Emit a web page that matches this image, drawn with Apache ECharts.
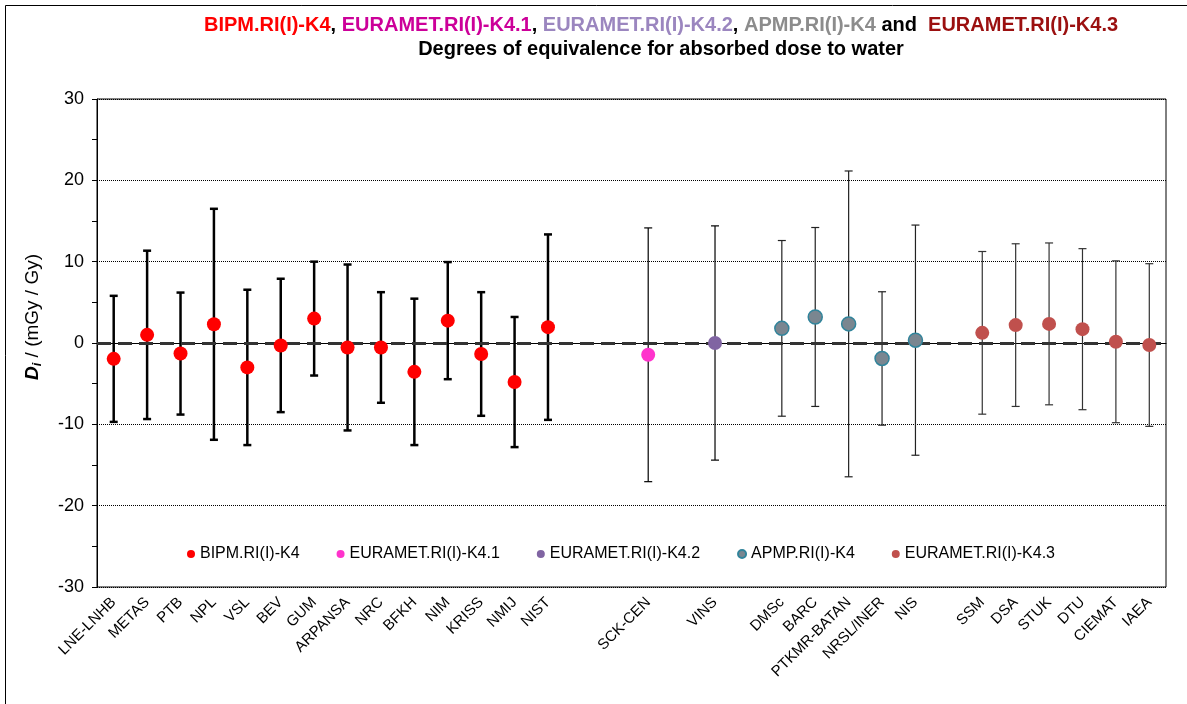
<!DOCTYPE html>
<html>
<head>
<meta charset="utf-8">
<script src="https://cdn.jsdelivr.net/npm/echarts@6/dist/echarts.min.js"></script>
<style>
  html, body { margin: 0; padding: 0; background: #fff; }
  #chart { width: 1187px; height: 704px; }
</style>
</head>
<body>
<div id="chart"></div>
<script>
// category slots, blanks leave the gaps between groups
const categories = [
  'LNE-LNHB', 'METAS', 'PTB', 'NPL', 'VSL', 'BEV', 'GUM', 'ARPANSA', 'NRC', 'BFKH',
  'NIM', 'KRISS', 'NMIJ', 'NIST', '', '', 'SCK-CEN', '', 'VINS', '',
  'DMSc', 'BARC', 'PTKMR-BATAN', 'NRSL/INER', 'NIS', '', 'SSM', 'DSA', 'STUK', 'DTU',
  'CIEMAT', 'IAEA'
]
const yTicks = [-30, -20, -10, 0, 10, 20, 30]

// BIPM.RI(I)-K4
const bipmLabs = ['LNE-LNHB', 'METAS', 'PTB', 'NPL', 'VSL', 'BEV', 'GUM', 'ARPANSA', 'NRC', 'BFKH', 'NIM', 'KRISS', 'NMIJ', 'NIST']
const bipmDi = [-1.95, 1.0, -1.3, 2.3, -3.0, -0.3, 3.0, -0.55, -0.55, -3.55, 2.75, -1.35, -4.8, 1.95]
const bipmU = [7.75, 10.35, 7.5, 14.2, 9.55, 8.2, 7.0, 10.2, 6.8, 9.0, 7.2, 7.6, 8.0, 11.4]

// EURAMET.RI(I)-K4.1
const k41Labs = ['SCK-CEN']
const k41Di = [-1.45]
const k41U = [15.6]

// EURAMET.RI(I)-K4.2
const k42Labs = ['VINS']
const k42Di = [0.0]
const k42U = [14.4]

// APMP.RI(I)-K4
const apmpLabs = ['DMSc', 'BARC', 'PTKMR-BATAN', 'NRSL/INER', 'NIS']
const apmpDi = [1.8, 3.2, 2.35, -1.9, 0.35]
const apmpU = [10.8, 11.0, 18.8, 8.2, 14.15]

// EURAMET.RI(I)-K4.3
const k43Labs = ['SSM', 'DSA', 'STUK', 'DTU', 'CIEMAT', 'IAEA']
const k43Di = [1.25, 2.2, 2.35, 1.7, 0.15, -0.25]
const k43U = [10.0, 10.0, 9.95, 9.9, 9.95, 10.0]

const FONT = "'Liberation Sans', Arial, sans-serif"
const TITLE_FONT = 'bold 20px ' + FONT

const chart = echarts.init(document.getElementById('chart'))

const points = (labs, di) => labs.map((lab, i) => [categories.indexOf(lab), di[i]])
const bars = (labs, di, u) => labs.map((lab, i) => [categories.indexOf(lab), di[i] - u[i], di[i] + u[i]])

const errorBars = (name, data, lineWidth, color) => ({
  name: name,
  type: 'custom',
  z: 2,
  silent: true,
  data: data,
  renderItem: (params, api) => {
    const lo = api.coord([api.value(0), api.value(1)])
    const hi = api.coord([api.value(0), api.value(2)])
    const half = 4
    const style = { stroke: color, lineWidth: lineWidth }
    return {
      type: 'group',
      children: [
        { type: 'line', shape: { x1: lo[0], y1: lo[1], x2: hi[0], y2: hi[1] }, style: style },
        { type: 'line', shape: { x1: lo[0] - half, y1: lo[1], x2: lo[0] + half, y2: lo[1] }, style: style },
        { type: 'line', shape: { x1: hi[0] - half, y1: hi[1], x2: hi[0] + half, y2: hi[1] }, style: style }
      ]
    }
  }
})

const dots = (name, data, color, border, size) => ({
  name: name,
  type: 'scatter',
  z: 5,
  symbol: 'circle',
  symbolSize: size,
  data: data,
  itemStyle: { color: color, borderColor: border, borderWidth: border ? 1.5 : 0, opacity: 1 }
})

const option = {
  backgroundColor: '#fff',
  animation: false,
  textStyle: { fontFamily: FONT },
  graphic: [
    {
      type: 'rect', silent: true,
      shape: { x: 5.5, y: 5.5, width: 1200, height: 720 },
      style: { fill: 'none', stroke: '#000', lineWidth: 1 }
    },
    {
      type: 'text', silent: true,
      style: {
        x: 661, y: 15, align: 'center', verticalAlign: 'top',
        text: '{a|BIPM.RI(I)-K4}{k|, }{b|EURAMET.RI(I)-K4.1}{k|, }{c|EURAMET.RI(I)-K4.2}{k|, }{d|APMP.RI(I)-K4}{k| and  }{e|EURAMET.RI(I)-K4.3}',
        font: TITLE_FONT,
        rich: {
          a: { fill: '#ff0000', font: TITLE_FONT },
          b: { fill: '#cc0099', font: TITLE_FONT },
          c: { fill: '#9b86bf', font: TITLE_FONT },
          d: { fill: '#8c8c8c', font: TITLE_FONT },
          e: { fill: '#9b1010', font: TITLE_FONT },
          k: { fill: '#000', font: TITLE_FONT }
        }
      }
    },
    {
      type: 'text', silent: true,
      style: {
        x: 661, y: 39, align: 'center', verticalAlign: 'top',
        text: 'Degrees of equivalence for absorbed dose to water',
        font: TITLE_FONT,
        fill: '#000'
      }
    }
  ],
  legend: {
    left: 182,
    top: 541,
    icon: 'circle',
    itemWidth: 8,
    itemHeight: 8,
    itemGap: 37,
    textStyle: { fontSize: 16, color: '#000', fontFamily: FONT },
    data: ['BIPM.RI(I)-K4', 'EURAMET.RI(I)-K4.1', 'EURAMET.RI(I)-K4.2', 'APMP.RI(I)-K4', 'EURAMET.RI(I)-K4.3']
  },
  grid: {
    left: 97,
    right: 21,
    top: 99,
    bottom: 117,
    show: true,
    borderColor: '#000',
    borderWidth: 1
  },
  xAxis: {
    type: 'category',
    data: categories,
    boundaryGap: true,
    axisLine: { lineStyle: { color: '#000' } },
    axisTick: { show: false },
    axisLabel: {
      interval: 0,
      rotate: 45,
      margin: 13,
      fontSize: 15,
      color: '#000',
      fontFamily: FONT
    },
    splitLine: { show: false }
  },
  yAxis: {
    type: 'value',
    min: yTicks[0],
    max: yTicks[yTicks.length - 1],
    interval: 10,
    name: '{d|D}{s|i}{n| / (mGy / Gy)}',
    nameLocation: 'middle',
    nameGap: 53,
    nameTextStyle: {
      padding: [0, 0, 0, 52],
      rich: {
        d: { fontSize: 19, fontWeight: 'bold', fontStyle: 'italic', color: '#000', fontFamily: FONT },
        s: { fontSize: 13, fontWeight: 'bold', fontStyle: 'italic', color: '#000', fontFamily: FONT, padding: [9, 0, 0, 0] },
        n: { fontSize: 19, color: '#000', fontFamily: FONT }
      }
    },
    axisLine: { show: true, lineStyle: { color: '#000' } },
    axisTick: { show: true, inside: false, length: 5, lineStyle: { color: '#000' } },
    minorTick: { show: true, splitNumber: 2, length: 5, lineStyle: { color: '#000' } },
    axisLabel: { fontSize: 18, color: '#000', margin: 13, fontFamily: FONT },
    splitLine: { show: true, lineStyle: { color: '#000', type: 'dotted', width: 1 } }
  },
  series: [
    errorBars('bipm-err', bars(bipmLabs, bipmDi, bipmU), 2.5, '#000'),
    errorBars('k41-err', bars(k41Labs, k41Di, k41U), 1.2, '#000'),
    errorBars('k42-err', bars(k42Labs, k42Di, k42U), 1.2, '#000'),
    errorBars('apmp-err', bars(apmpLabs, apmpDi, apmpU), 1.2, '#222'),
    errorBars('k43-err', bars(k43Labs, k43Di, k43U), 1.2, '#333'),
    {
      name: 'zero',
      type: 'line',
      data: [],
      silent: true,
      markLine: {
        silent: true,
        symbol: 'none',
        label: { show: false },
        lineStyle: { color: '#333', type: [14, 7], width: 3 },
        data: [{ yAxis: 0 }]
      }
    },
    dots('BIPM.RI(I)-K4', points(bipmLabs, bipmDi), '#ff0000', null, 14),
    dots('EURAMET.RI(I)-K4.1', points(k41Labs, k41Di), '#ff33cc', null, 14),
    dots('EURAMET.RI(I)-K4.2', points(k42Labs, k42Di), '#8064a2', null, 14),
    dots('APMP.RI(I)-K4', points(apmpLabs, apmpDi), '#7a8690', '#31849b', 14),
    dots('EURAMET.RI(I)-K4.3', points(k43Labs, k43Di), '#c0504d', null, 14)
  ]
}

chart.setOption(option)

window.addEventListener('resize', () => chart.resize())
</script>
</body>
</html>
